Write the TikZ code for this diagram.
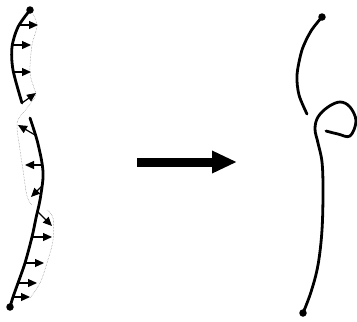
\documentclass[tikz,border=0pt]{standalone}
\usepackage{tikz}
\usetikzlibrary{positioning, calc, arrows.meta}
\tikzset{rod/.style={draw, line width=2.8pt, line cap=round, line join=round}}
\tikzset{endpt/.style={circle, fill=black, inner sep=0pt, minimum size=7.5pt}}
\tikzset{vec/.style={draw, line width=1.2pt, -{Triangle[length=9pt, width=8pt]}}}
\tikzset{shadow/.style={draw=gray, line width=0.5pt, densely dotted}}
\tikzset{bigarr/.style={draw, line width=9pt, -{Triangle[length=25pt, width=21pt]}}}

\begin{document}
\begin{tikzpicture}[x=1pt, y=-1pt]
	\useasboundingbox (0,0) rectangle (357,322);
	%
	% left: rod with force vectors
	\node[endpt] (Ltop) at (30,10) {};
	\node[endpt] (Lbot) at (10,307) {};
	\draw[shadow] plot[smooth, tension=0.6] coordinates {(33,14) (37,26) (32,45) (30,72) (34,88) (36,95) (27,108) (19,118) (17,127) (20,150) (23,170) (27,196) (32,205)};
	\draw[shadow] plot[smooth, tension=0.6] coordinates {(47,210) (53,218) (53,240) (47,263) (40,283) (30,298)};
	\draw[rod] plot[smooth] coordinates {(Ltop) (18,27) (12,47) (13,70) (22,103)};
	\draw[rod] plot[smooth] coordinates {(30,118) (37,140) (42,163) (43,178) (40,200) (36,218) (32,237) (25,263) (18,283) (13,297) (Lbot)};
	\foreach \xa/\ya/\xb/\yb in {18/25/38/25, 12/45/31/45, 13/72/31/72, 22/103/36/93,
		35/135/18/125, 42/165/25/165, 42/186/31/197,
		38/212/52/226, 32/237/52/237, 25/263/44/263, 19/283/37/283, 13/297/30/297}
		\draw[vec] (\xa,\ya) -- (\xb,\yb);
	%
	% middle: big arrow
	\coordinate (push) at (137,162);
	\coordinate (pushend) at (237,162);
	\draw[bigarr] (push) -- (pushend);
	%
	% right: deformed rod with loop
	\node[endpt] (Rtop) at (322,17) {};
	\node[endpt] (Rbot) at (303,313) {};
	\draw[rod] plot[smooth] coordinates {(Rtop) (311,31) (302,50) (297,75) (299,95) (307,114)};
	\draw[rod] plot[smooth, tension=0.6] coordinates {(326,131) (338,134) (350,136) (356,121) (350,107) (340,102) (328,107) (318,117) (315,129) (318,143) (322,162) (323,190) (322,230) (318,265) (311,292) (Rbot)};
\end{tikzpicture}
\end{document}
